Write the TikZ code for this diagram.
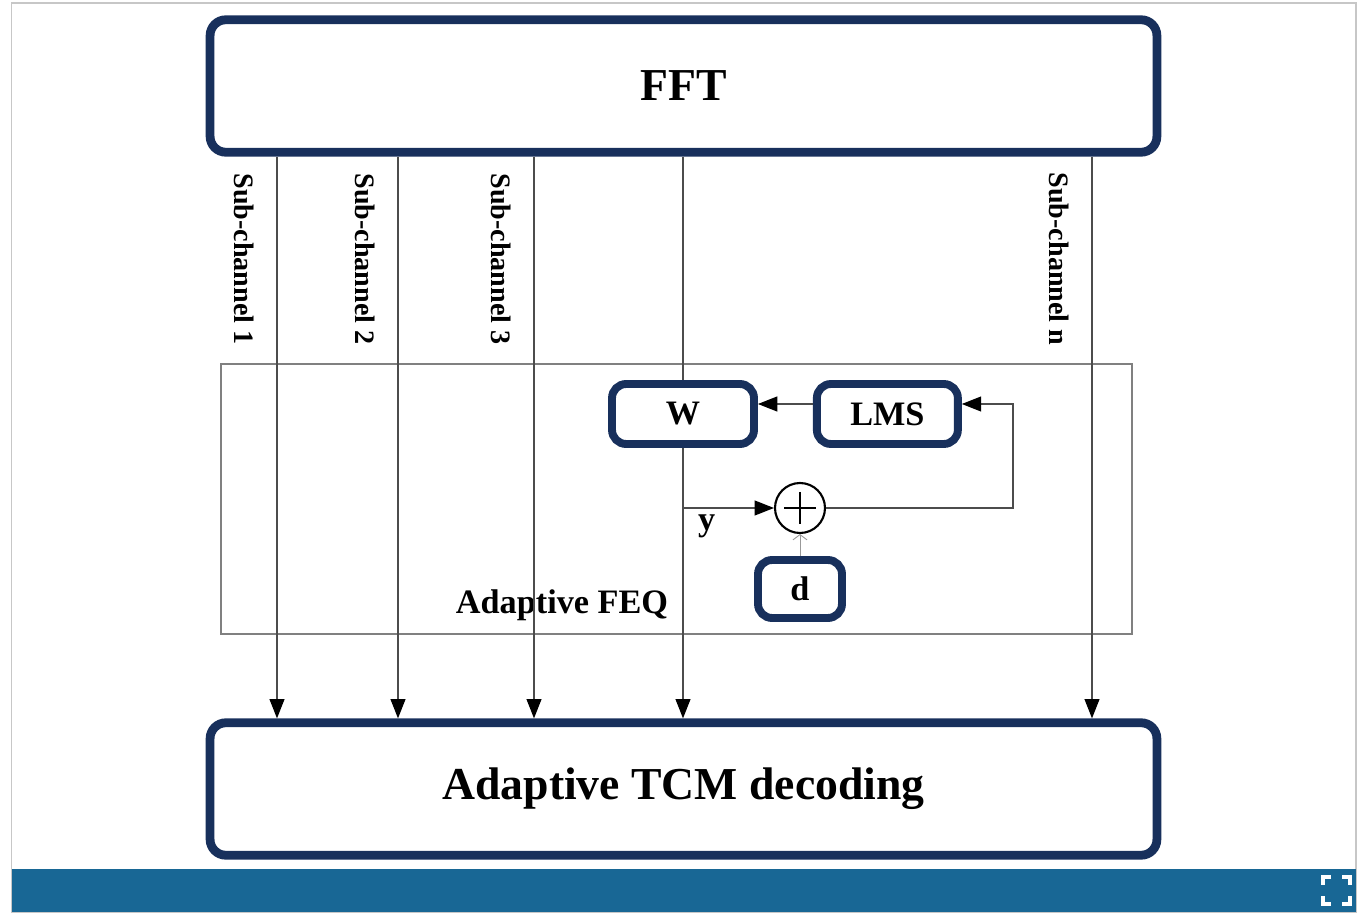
\documentclass[tikz,border=0pt]{standalone}
\usepackage{fontspec}
\setmainfont{Liberation Serif}
\usepackage{tikz}
\usetikzlibrary{
  positioning,
  arrows.meta
}

\definecolor{boxnavy}{RGB}{24,48,92}
\definecolor{barblue}{RGB}{24,103,149}

\begin{document}
\begin{tikzpicture}[
  x=0.02cm, y=-0.02cm,
  font=\bfseries,
  bigbox/.style={
    rectangle,
    rounded corners=9pt,
    draw=boxnavy,
    line width=5pt,
    fill=white,
    minimum width=18.94cm,
    minimum height=2.65cm,
    font=\fontsize{26}{30}\selectfont\bfseries
  },
  smallbox/.style={
    rectangle,
    rounded corners=8pt,
    draw=boxnavy,
    line width=4.5pt,
    fill=white,
    minimum height=1.2cm,
    font=\fontsize{19.5}{23}\selectfont\bfseries
  },
  feqbox/.style={
    rectangle,
    draw=black!50,
    line width=0.8pt,
    minimum width=18.22cm,
    minimum height=5.4cm
  },
  sumnode/.style={
    circle,
    draw=black,
    line width=1.2pt,
    fill=white,
    minimum size=1cm,
    inner sep=0pt
  },
  chanlabel/.style={
    rotate=-90,
    font=\fontsize{16}{19}\selectfont\bfseries
  },
  line/.style={
    line width=0.7pt,
    draw=black!70
  },
  arrow/.style={
    -{Triangle[length=11pt,width=8.5pt,black]},
    line width=0.7pt,
    draw=black!70
  },
  thinarrow/.style={
    -{Straight Barb[length=3pt,width=8pt]},
    line width=0.5pt,
    draw=black!40
  }
]
\useasboundingbox (0,0) rectangle (1363,915);

% page frame and bar
\draw[black!22, line width=0.8pt] (11.5,3) rectangle (1356,912);
\fill[barblue] (12,869) rectangle (1356,912);
\foreach \cx/\cy/\dx/\dy in {1323/877/1/1, 1350/877/-1/1, 1323/904/1/-1, 1350/904/-1/-1}
  \draw[white, line width=1.8pt] (\cx+8*\dx,\cy) -- (\cx,\cy) -- (\cx,\cy+8*\dy);

% equalizer frame
\node[feqbox] (feq) at (676.5,499) {};
\node[font=\fontsize{19.5}{23}\selectfont\bfseries] (feqlabel) at (562,605) {Adaptive FEQ};

% main blocks
\node[bigbox] (fft) at (683.5,86) {FFT};
\node[bigbox] (tcm) at (683.5,789) {Adaptive TCM decoding};

% sub-channels
\foreach \x/\n in {277/1, 398/2, 534/3, 1092/n} {
  \draw[arrow] (fft.south -| \x,0) -- (tcm.north -| \x,0);
  \node[chanlabel] (lab\n) at (\x-33,259) {Sub-channel \n};
}

% adaptive loop
\node[smallbox, minimum width=2.84cm] (W) at (683,414) {W};
\node[smallbox, minimum width=2.82cm, right=1.1cm of W] (LMS) {LMS};
\node[sumnode] (sum) at (800,508) {};
\draw[line width=1.2pt] (sum.center) ++(0,-16) -- ++(0,32);
\draw[line width=1.2pt] (sum.center) ++(-16,0) -- ++(32,0);
\node[smallbox, minimum width=1.68cm, minimum height=1.16cm, below=0.44cm of sum] (d) {d};

\coordinate (fb) at (1013,404);
\coordinate (tap) at (W.south |- sum);

\draw[line] (fft.south -| W.north) -- (W.north);
\draw[line] (W.south) -- (tap);
\draw[arrow] (tap) -- (tcm.north -| tap);
\draw[arrow] (tap) -- node[pos=0.26, below=0pt, font=\fontsize{19.5}{23}\selectfont\bfseries]{y} (sum.west);
\draw[arrow] (sum.east) -| (fb) -- (LMS.east |- fb);
\draw[arrow] (LMS.west |- fb) -- (W.east |- fb);
\draw[thinarrow] (d.north) -- (sum.south);

\end{tikzpicture}
\end{document}
